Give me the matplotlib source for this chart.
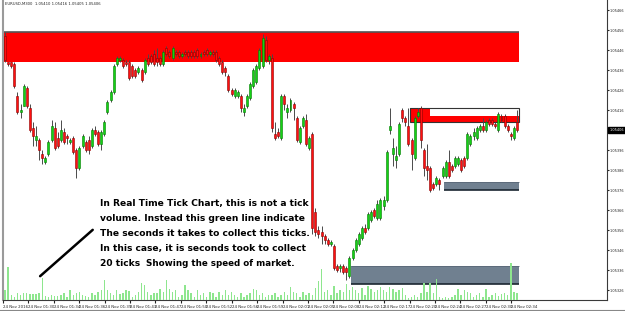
import numpy as np
import matplotlib.pyplot as plt
import matplotlib.transforms as mtransforms
from matplotlib.patches import Rectangle

# EURUSD tick bars (20 ticks each), prices in points (1 point = 0.00001)
opens = [
    105453, 105440, 105440, 105439, 105423, 105415, 105418, 105427, 105417, 105407,
    105401, 105401, 105394, 105390, 105394, 105401, 105407, 105402, 105401, 105405,
    105403, 105400, 105402, 105396, 105387, 105398, 105400, 105401, 105398, 105406,
    105405, 105399, 105404, 105415, 105421, 105425, 105439, 105441, 105441, 105440,
    105440, 105438, 105436, 105435, 105436, 105435, 105442, 105443, 105444, 105442,
    105442, 105439, 105447, 105445, 105442, 105445, 105445, 105443, 105445, 105445,
    105445, 105445, 105446, 105443, 105445, 105446, 105444, 105445, 105445, 105442,
    105440, 105437, 105433, 105426, 105423, 105423, 105423, 105415, 105418, 105422,
    105428, 105430, 105437, 105438, 105451, 105441, 105442, 105404, 105405, 105402,
    105423, 105415, 105416, 105419, 105412, 105400, 105408, 105411, 105397, 105404,
    105365, 105356, 105355, 105353, 105351, 105349, 105348, 105338, 105337, 105338,
    105337, 105333, 105342, 105346, 105349, 105352, 105357, 105357, 105361, 105366,
    105362, 105362, 105368, 105371, 105406, 105394, 105391, 105394, 105416, 105412,
    105408, 105401, 105392, 105413, 105417, 105396, 105388, 105387, 105379, 105379,
    105381, 105383, 105383, 105390, 105388, 105388, 105389, 105391, 105392, 105392,
    105399, 105403, 105402, 105406, 105408, 105406, 105411, 105411, 105409, 105406,
    105413, 105413, 105408, 105404, 105402, 105410,
]
highs = [
    105455, 105440, 105440, 105440, 105425, 105419, 105429, 105428, 105419, 105410,
    105408, 105402, 105396, 105393, 105401, 105411, 105410, 105405, 105411, 105407,
    105404, 105402, 105403, 105397, 105398, 105404, 105401, 105403, 105407, 105408,
    105406, 105406, 105411, 105421, 105426, 105439, 105443, 105443, 105442, 105441,
    105441, 105439, 105437, 105438, 105437, 105442, 105444, 105444, 105446, 105447,
    105443, 105446, 105448, 105446, 105448, 105446, 105446, 105445, 105446, 105446,
    105446, 105446, 105447, 105445, 105446, 105447, 105446, 105446, 105446, 105443,
    105441, 105438, 105434, 105427, 105427, 105426, 105424, 105419, 105424, 105430,
    105437, 105439, 105447, 105454, 105453, 105444, 105444, 105410, 105407, 105424,
    105424, 105419, 105422, 105420, 105413, 105408, 105413, 105414, 105403, 105405,
    105367, 105358, 105358, 105354, 105352, 105351, 105349, 105339, 105339, 105339,
    105338, 105343, 105347, 105352, 105355, 105358, 105359, 105365, 105366, 105367,
    105371, 105372, 105373, 105396, 105417, 105402, 105398, 105410, 105417, 105413,
    105417, 105402, 105413, 105417, 105418, 105397, 105399, 105388, 105380, 105383,
    105382, 105388, 105391, 105396, 105389, 105393, 105393, 105392, 105393, 105405,
    105404, 105407, 105408, 105409, 105412, 105411, 105412, 105412, 105410, 105415,
    105414, 105414, 105409, 105405, 105408, 105416,
]
lows = [
    105440, 105438, 105437, 105427, 105414, 105412, 105418, 105417, 105405, 105398,
    105398, 105391, 105389, 105389, 105393, 105400, 105396, 105397, 105400, 105399,
    105399, 105399, 105394, 105382, 105386, 105397, 105395, 105394, 105397, 105403,
    105398, 105396, 105403, 105414, 105420, 105424, 105438, 105440, 105437, 105438,
    105431, 105432, 105432, 105434, 105430, 105434, 105438, 105439, 105438, 105438,
    105438, 105438, 105443, 105442, 105441, 105443, 105442, 105442, 105443, 105442,
    105442, 105442, 105442, 105442, 105443, 105443, 105443, 105443, 105440, 105438,
    105434, 105433, 105425, 105423, 105422, 105422, 105415, 105413, 105417, 105421,
    105427, 105429, 105436, 105437, 105440, 105439, 105405, 105401, 105402, 105401,
    105416, 105412, 105415, 105411, 105400, 105399, 105407, 105398, 105396, 105354,
    105353, 105352, 105349, 105349, 105348, 105348, 105336, 105335, 105335, 105334,
    105331, 105332, 105341, 105345, 105348, 105351, 105354, 105356, 105360, 105362,
    105361, 105361, 105366, 105370, 105404, 105388, 105387, 105393, 105410, 105408,
    105398, 105386, 105391, 105412, 105397, 105383, 105381, 105375, 105376, 105378,
    105376, 105382, 105382, 105382, 105385, 105387, 105388, 105385, 105387, 105391,
    105398, 105401, 105401, 105405, 105405, 105405, 105408, 105408, 105407, 105405,
    105410, 105407, 105405, 105401, 105401, 105405,
]
closes = [
    105441, 105439, 105438, 105428, 105415, 105416, 105428, 105418, 105406, 105403,
    105403, 105396, 105392, 105392, 105400, 105408, 105397, 105398, 105406, 105400,
    105402, 105401, 105395, 105387, 105397, 105403, 105396, 105396, 105406, 105404,
    105399, 105405, 105410, 105420, 105425, 105438, 105442, 105442, 105438, 105439,
    105432, 105433, 105433, 105437, 105431, 105441, 105439, 105440, 105439, 105440,
    105439, 105445, 105444, 105443, 105447, 105444, 105443, 105444, 105444, 105443,
    105443, 105443, 105443, 105444, 105444, 105444, 105445, 105444, 105441, 105439,
    105435, 105435, 105426, 105424, 105426, 105425, 105417, 105417, 105423, 105429,
    105436, 105438, 105446, 105452, 105441, 105443, 105407, 105402, 105403, 105423,
    105419, 105417, 105421, 105417, 105401, 105407, 105412, 105399, 105402, 105357,
    105355, 105354, 105353, 105351, 105349, 105350, 105337, 105336, 105338, 105335,
    105335, 105342, 105346, 105351, 105354, 105357, 105355, 105364, 105365, 105363,
    105369, 105371, 105371, 105395, 105408, 105397, 105393, 105409, 105412, 105410,
    105399, 105394, 105412, 105415, 105401, 105387, 105386, 105376, 105377, 105382,
    105379, 105387, 105390, 105383, 105386, 105392, 105392, 105386, 105388, 105404,
    105403, 105405, 105407, 105408, 105406, 105410, 105409, 105409, 105408, 105414,
    105411, 105408, 105406, 105403, 105407, 105406,
]
# seconds it took to collect the 20 ticks of each bar
seconds = [
    10, 33, 5, 3, 7, 5, 7, 7, 6, 6, 6, 7, 22, 4, 3, 5, 4, 4, 5, 7,
    3, 10, 5, 7, 8, 5, 4, 3, 7, 5, 8, 10, 20, 10, 7, 5, 10, 6, 7, 10,
    9, 3, 5, 8, 17, 15, 8, 5, 7, 7, 11, 8, 20, 11, 8, 10, 3, 5, 15, 10,
    7, 3, 10, 5, 7, 3, 8, 7,
    3, 8, 5, 10, 5, 8, 5, 3, 7, 3, 5, 7, 11, 10, 5, 7, 3, 5, 5, 7,
    3, 5, 8, 5, 13, 8, 7, 3, 8, 5, 7, 5, 12, 19, 31, 8, 10, 5, 14, 7,
    10, 8, 16, 10, 13, 10, 7, 12, 5, 14, 11, 8, 10, 13, 10, 8, 13, 11, 8, 10,
    12,
    5, 2, 3, 5, 3, 7, 17, 8, 17, 7, 21, 3, 2, 3, 2, 3, 5, 11, 5, 10,
    8, 7, 3, 5, 7, 3, 11, 3, 5, 7, 4, 6, 7, 5, 37, 8, 7,
]
date_labels = [
    "24 Nov 2016", "24 Nov 01:30", "24 Nov 01:34", "24 Nov 01:36", "24 Nov 01:39",
    "24 Nov 01:43", "24 Nov 01:47", "24 Nov 01:50", "24 Nov 01:52", "24 Nov 01:56",
    "24 Nov 01:59", "24 Nov 02:01", "24 Nov 02:05", "24 Nov 02:08", "24 Nov 02:12",
    "24 Nov 02:17", "24 Nov 02:20", "24 Nov 02:24", "24 Nov 02:27", "24 Nov 02:30",
    "24 Nov 02:34",
]

# supply / demand zones: (first bar, top, bottom) in points
supply_zone = (0, 105455, 105440)
small_supply = (131, 105417, 105410)
small_supply_mid = 105413
small_supply_red_end = 137
demand_small = (142, 105380, 105376)
demand_big = (112, 105338, 105329)

o = np.array(opens) / 1e5
h = np.array(highs) / 1e5
l = np.array(lows) / 1e5
c = np.array(closes) / 1e5
n = len(o)
x = np.arange(n)
last = n - 1 + 0.5

fig = plt.figure(figsize=(6.25, 3.11), dpi=100)
ax = fig.add_axes([3 / 625, 11 / 311, 604 / 625, 300 / 311])
ax.set_xlim(-0.65, n - 1 + 29)
ax.set_ylim(1.05321, 1.05471)

def zone(start, top, bottom, end=last, **kw):
    ax.add_patch(Rectangle((start - 0.5, bottom / 1e5), end - start + 0.5,
                           (top - bottom) / 1e5, zorder=1, **kw))

zone(supply_zone[0], supply_zone[1], supply_zone[2], facecolor="#ff0000", edgecolor="none")
ax.hlines(supply_zone[1] / 1e5, supply_zone[0] - 0.5, last, color="#555555", lw=1.2, zorder=1.5)

zone(small_supply[0], small_supply_mid, small_supply[2], facecolor="#ff0000", edgecolor="none")
zone(small_supply[0], small_supply[1], small_supply[2], end=small_supply_red_end,
     facecolor="#ff0000", edgecolor="none")
zone(small_supply[0], small_supply[1], small_supply[2], facecolor="none",
     edgecolor="#333333", lw=0.8)

for z in (demand_small, demand_big):
    zone(z[0], z[1], z[2], facecolor="#708090", edgecolor="none")
    ax.hlines(z[2] / 1e5, z[0] - 0.5, last, color="#1b2631", lw=1.2, zorder=1.5)
    ax.hlines(z[1] / 1e5, z[0] - 0.5, last, color="#5a6878", lw=0.6, zorder=1.5)

# tick-speed histogram at the bottom
ax2 = ax.twinx()
ax2.set_ylim(0, 300)
ax2.bar(x, seconds, width=0.45, color="#8ee68e", zorder=1)
ax2.set_yticks([])
for s in ax2.spines.values():
    s.set_visible(False)

# candles (on top of the histogram, in price coordinates)
ax2.vlines(x, l, h, color="#4a4a4a", lw=0.7, zorder=3, transform=ax.transData)
up = c >= o
body_lo = np.minimum(o, c)
body_h = np.maximum(np.abs(c - o), 0.000006)
ax2.bar(x[up], body_h[up], bottom=body_lo[up], width=0.64, color="#14d214",
        edgecolor="#007a00", lw=0.4, zorder=4, transform=ax.transData)
ax2.bar(x[~up], body_h[~up], bottom=body_lo[~up], width=0.64, color="#ff1010",
        edgecolor="#8b0000", lw=0.4, zorder=4, transform=ax.transData)

# axes styling; the tick under the current-price box carries no label
ax.yaxis.tick_right()
ticks = 1.05466 - 0.0001 * np.arange(15)
ax.set_yticks(ticks)
ax.set_yticklabels(["" if abs(t - c[-1]) < 0.00003 else f"{t:.5f}" for t in ticks])
ax.tick_params(axis="y", labelsize=2.5, length=1.5, pad=0.6, colors="#222222")
xt = -0.65 + 8.19 * np.arange(len(date_labels))
ax.set_xticks(xt)
ax.set_xticklabels(date_labels, ha="left")
ax.tick_params(axis="x", labelsize=2.8, length=2.5, pad=1, colors="#222222")
ax.spines["top"].set_visible(False)
ax.spines["left"].set_color("#9a9a9a")
ax.spines["right"].set_color("#3a3a3a")
ax.spines["bottom"].set_color("#3a3a3a")
ax.spines["left"].set_linewidth(1.5)

# current price marker
trans = mtransforms.blended_transform_factory(ax.transAxes, ax.transData)
ax.text(1.0035, c[-1], f"{c[-1]:.5f}", transform=trans, fontsize=2.5, color="white",
        va="center", ha="left", bbox=dict(boxstyle="square,pad=0.25", fc="black", ec="black"))

# header
ax.text(0.004, 0.987, f"EURUSD,M300  {o[-1]:.5f} {h[-1]:.5f} {l[-1]:.5f} {c[-1]:.5f}",
        transform=ax.transAxes, fontsize=2.7, va="center", ha="left", color="#222222")

# annotation
note = [
    "In Real Time Tick Chart, this is not a tick",
    "volume. Instead this green line indicate",
    "The seconds it takes to collect this ticks.",
    "In this case, it is seconds took to collect",
]
for i, line in enumerate(note):
    ax.text(0.1606, 0.323 - 0.05 * i, line, transform=ax.transAxes, fontsize=6.6,
            fontweight="bold", va="center", ha="left", zorder=6)
ax.text(0.1606, 0.12, "20 ticks", transform=ax.transAxes, fontsize=6.6,
        fontweight="bold", va="center", ha="left", zorder=6)
ax.text(0.2368, 0.12, "Showing the speed of market.", transform=ax.transAxes, fontsize=6.3,
        fontweight="bold", va="center", ha="left", zorder=6)
ax.annotate("", xy=(0.152, 0.24), xytext=(0.058, 0.0733), xycoords="axes fraction",
            arrowprops=dict(arrowstyle="-", color="black", lw=1.8))

fig.add_artist(plt.Line2D([0, 1], [1 / 311, 1 / 311], color="#888888", lw=0.8))
fig.savefig("out.png", dpi=100)
